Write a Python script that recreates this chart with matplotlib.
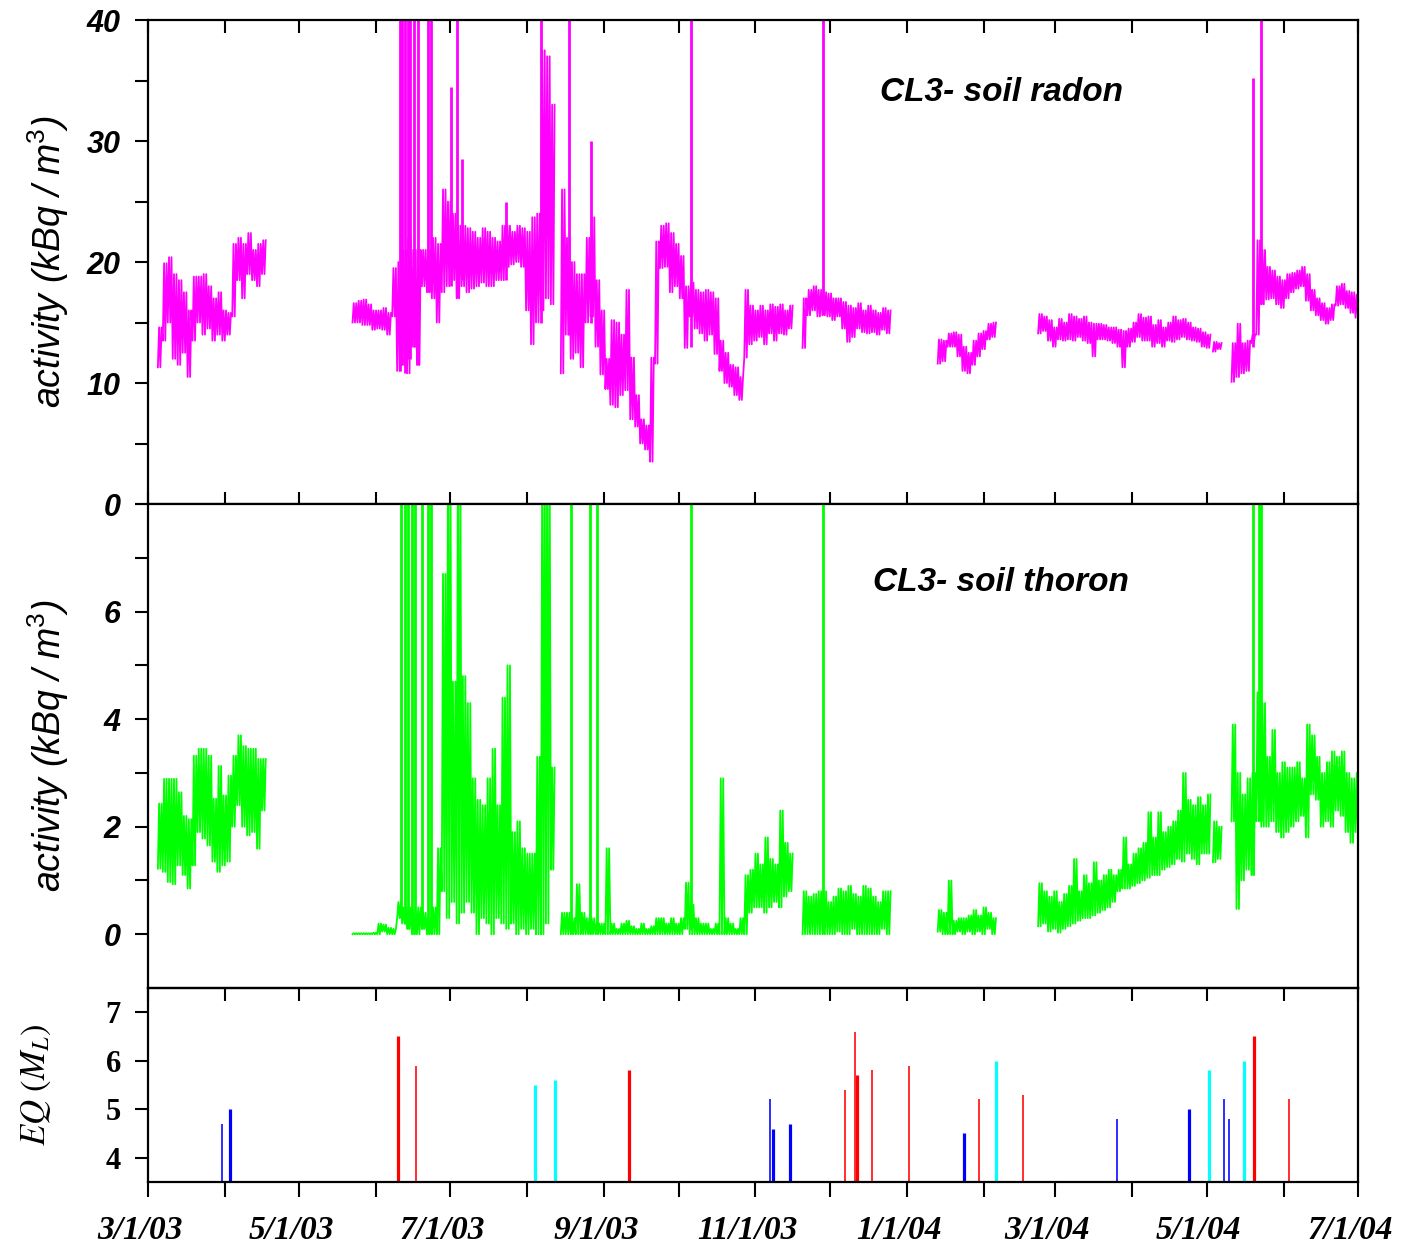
import numpy as np
import matplotlib
matplotlib.use("Agg")
import matplotlib.pyplot as plt
import matplotlib.dates as mdates
from matplotlib.transforms import ScaledTranslation

SANS = "Liberation Sans"
SERIF = "Liberation Serif"
plt.rcParams["mathtext.fontset"] = "custom"
plt.rcParams["mathtext.rm"] = SANS
plt.rcParams["mathtext.it"] = SANS + ":italic"

nan = np.nan

# start of each recording segment; every band entry below is one 2-day bin (min, max)
seg_start = {
    "a": "2003-03-05T00", "b": "2003-05-22T12", "b2": "2003-11-20T00",
    "c": "2004-01-13T12", "d": "2004-02-23T00", "f": "2004-05-03T12",
    "e": "2004-05-11T00",
}

# ---- soil radon (kBq/m3)
radon_a_lo = [11.3, 13.5, 15.0, 12.0, 11.5, 12.5, 10.5, 13.5, 15.0, 14.0, 14.5,
              13.5, 14.0, 13.5, 14.0, 15.5, 18.5, 17.0, 19.0, 18.5, 18.0, 19.0]
radon_a_hi = [14.6, 19.9, 20.4, 19.0, 18.5, 17.5, 16.0, 18.8, 18.8, 19.0, 18.0,
              17.0, 17.5, 16.0, 15.8, 21.5, 22.0, 21.5, 22.4, 21.0, 21.5, 21.8]
radon_b_lo = [15.0, 15.0, 14.8, 14.8, 14.4, 14.5, 14.4, 14.0, 15.5,
              11.0, 11.5, 10.8, 13.0, 11.5, 18.0, 17.5, 17.0, 15.0, 17.5, 18.0, 18.5, 17.0,
              18.0, 17.5, 17.8, 18.0, 18.3, 18.0, 18.0, 18.5, 18.5, 19.6, 19.8, 20.0, 19.6,
              16.0, 13.2, 15.0, 16.0, 17.0, 16.5,
              nan,
              10.8, 14.0, 12.0, 12.5, 11.3, 15.0, 15.5, 13.0, 10.7, 9.5, 8.2, 8.0, 9.0,
              9.4, 7.0, 6.4, 5.0, 4.5, 3.5,
              11.6, 19.5, 19.6, 17.5, 18.0, 17.0, 12.9, 15.5, 14.5, 14.1, 13.5, 14.0, 12.4,
              11.0, 10.0, 9.7, 9.0, 8.6,
              12.1, 13.2, 13.5, 13.8, 13.2, 14.1, 13.5, 14.1, 14.0, 14.5]
radon_b_hi = [16.6, 16.8, 16.9, 16.5, 16.0, 16.0, 16.2, 15.8, 19.5,
              20.0, 21.0, 22.0, 21.0, 21.0, 21.0, 21.0, 22.0, 21.5, 26.0, 25.0, 24.0, 23.0,
              23.0, 22.8, 22.5, 22.0, 22.8, 22.5, 22.0, 21.7, 23.0, 23.0, 22.5, 23.0, 22.8,
              22.5, 23.7, 24.0, 37.5, 37.0, 33.0,
              nan,
              26.0, 22.0, 20.0, 19.0, 19.0, 22.0, 23.7, 18.5, 16.0, 12.0, 15.2, 15.0, 14.0,
              17.7, 12.1, 9.0, 7.0, 6.5, 12.1,
              21.7, 23.0, 23.2, 22.4, 21.5, 20.5, 18.0, 18.3, 17.7, 17.5, 17.7, 17.5, 17.0,
              13.5, 12.5, 11.5, 11.3, 10.5,
              17.7, 16.4, 16.0, 16.4, 16.0, 16.5, 16.3, 16.5, 16.0, 16.4]
radon_b2_lo = [12.9, 15.6, 16.0, 15.5, 15.6, 15.5, 15.2, 15.5, 14.5, 13.4, 13.8, 14.5,
               14.2, 14.1, 14.2, 14.0, 14.4, 14.1]
radon_b2_hi = [17.0, 17.7, 18.0, 17.7, 17.5, 17.4, 17.0, 17.0, 16.7, 16.4, 16.2, 16.6,
               16.0, 16.4, 16.0, 15.8, 16.2, 16.0]
radon_c_lo = [11.6, 11.8, 13.0, 13.0, 12.2, 11.0, 10.8, 11.5, 12.2, 12.8, 13.6, 13.8]
radon_c_hi = [13.6, 13.5, 14.1, 14.2, 14.0, 13.0, 12.5, 13.5, 14.1, 14.3, 14.9, 15.0]
radon_d_lo = [14.1, 14.3, 13.5, 13.0, 13.6, 13.5, 13.6, 13.5, 13.8, 13.5, 13.3, 12.2,
              13.6, 13.6, 13.5, 13.3, 13.0, 11.3, 13.0, 13.4, 13.8, 13.5, 13.5, 13.0,
              13.3, 13.0, 13.5, 13.4, 13.6, 13.8, 13.6, 13.5, 13.4, 13.0, 12.9]
radon_d_hi = [15.7, 15.5, 15.2, 14.6, 15.3, 15.0, 15.7, 15.5, 15.3, 15.5, 15.0, 14.9,
              14.9, 14.8, 14.6, 14.6, 14.4, 14.3, 14.5, 15.0, 15.7, 15.4, 15.5, 14.8,
              15.2, 14.6, 15.0, 15.5, 15.2, 15.3, 15.0, 14.6, 14.5, 14.2, 14.0]
radon_f_lo = [12.6, 12.8]
radon_f_hi = [13.4, 13.3]
radon_e_lo = [10.1, 10.5, 10.8, 11.0, 13.3, 14.0, 16.5, 16.9, 17.0, 16.5, 16.2, 17.0,
              17.5, 17.8, 18.0, 16.8, 16.0, 15.6, 15.2, 14.9, 15.2, 16.4, 16.5, 16.2,
              15.8, 15.4]
radon_e_hi = [13.3, 14.9, 13.3, 13.5, 14.0, 21.8, 21.0, 19.6, 19.3, 18.8, 18.5, 19.0,
              19.1, 19.3, 19.6, 19.0, 17.7, 17.0, 16.6, 16.2, 16.5, 18.0, 18.2, 17.6,
              17.5, 17.3]

# single-reading radon spikes (45 = off scale)
radon_spike_date = ["2003-06-10T14", "2003-06-11T14", "2003-06-12T14", "2003-06-13T17",
                    "2003-06-14T17", "2003-06-16T07", "2003-06-17T22", "2003-06-21T22",
                    "2003-06-23T02", "2003-07-01T05", "2003-07-03T14", "2003-07-05T17",
                    "2003-07-23T10", "2003-08-06T12", "2003-08-17T19", "2003-08-26T17",
                    "2003-10-06T00", "2003-11-28T05", "2004-05-19T14", "2004-05-22T22"]
radon_spike_top = [45, 45, 45, 45, 45, 45, 45, 45, 45, 34.5, 45, 28.5, 25.0, 45, 45,
                   30.0, 45, 45, 35.2, 45]
radon_spike_base = [11.0, 11.5, 10.8, 12.0, 12.0, 13.0, 11.5, 17.5, 17.5, 18.0, 17.0,
                    18.5, 18.5, 15.0, 14.0, 15.0, 13.0, 15.6, 13.0, 16.5]

# ---- soil thoron (kBq/m3)
thoron_a_lo = [1.22, 1.16, 0.97, 0.93, 1.28, 1.10, 0.85, 1.28, 1.90, 1.78, 1.65,
               1.35, 1.16, 1.28, 1.35, 2.0, 2.4, 2.0, 1.84, 1.9, 1.59, 2.3]
thoron_a_hi = [2.43, 2.89, 2.89, 2.89, 2.64, 2.20, 2.14, 3.32, 3.45, 3.45, 3.32,
               2.52, 3.13, 2.58, 2.95, 3.32, 3.7, 3.5, 3.45, 3.45, 3.26, 3.26]
thoron_b_lo = [0, 0, 0, 0, 0, 0, 0.05, 0, 0,
               0.3, 0.2, 0.1, 0, 0, 0.1, 0, 0, 0, 0.8, 0.3, 0.6, 0.2,
               0.4, 0.6, 0.4, 0, 0.3, 0.2, 0, 0.3, 0.2, 0.1, 0.2, 0, 0.1,
               0, 0.1, 0, 0, 0.2, 1.2,
               nan,
               0, 0, 0, 0, 0, 0, 0, 0, 0, 0, 0, 0, 0, 0, 0, 0, 0, 0, 0,
               0, 0, 0, 0, 0, 0, 0.1, 0, 0, 0, 0, 0, 0, 0, 0, 0, 0, 0,
               0, 0.4, 0.5, 0.5, 0.4, 0.5, 0.6, 0.5, 0.7, 0.8]
thoron_b_hi = [0.02, 0.02, 0.02, 0.02, 0.03, 0.2, 0.18, 0.12, 0.1,
               0.6, 0.5, 0.5, 0.4, 0.5, 0.4, 0.3, 0.5, 1.6, 6.7, 9, 4.7, 9,
               4.8, 4.3, 2.9, 2.5, 2.4, 2.9, 3.45, 2.4, 4.4, 5.0, 1.9, 2.1, 1.6,
               1.5, 1.5, 3.3, 9, 9, 3.1,
               nan,
               0.4, 0.4, 0.3, 0.93, 0.4, 0.3, 0.3, 0.2, 0.2, 1.6, 0.2, 0.1, 0.2, 0.25,
               0.15, 0.1, 0.2, 0.1, 0.15,
               0.3, 0.3, 0.2, 0.3, 0.2, 0.3, 0.96, 0.55, 0.3, 0.2, 0.2, 0.1, 0.2, 2.9,
               0.3, 0.2, 0.1, 0.3,
               1.1, 1.2, 1.5, 1.3, 1.8, 1.4, 1.3, 2.3, 1.7, 1.5]
thoron_b2_lo = [0, 0, 0, 0, 0, 0, 0, 0.05, 0, 0, 0.1, 0, 0, 0, 0, 0, 0.1, 0]
thoron_b2_hi = [0.8, 0.7, 0.75, 0.8, 0.8, 0.6, 0.7, 0.85, 0.8, 0.9, 0.75, 0.7, 0.9,
                0.85, 0.7, 0.6, 0.8, 0.8]
thoron_c_lo = [0.05, 0, 0, 0, 0.05, 0, 0.05, 0, 0.05, 0, 0.1, 0]
thoron_c_hi = [0.45, 0.4, 1.0, 0.25, 0.3, 0.3, 0.35, 0.45, 0.35, 0.5, 0.4, 0.3]
thoron_d_lo = [0.15, 0.2, 0.05, 0.1, 0.03, 0.1, 0.15, 0.2, 0.25, 0.3, 0.3, 0.35,
               0.4, 0.45, 0.5, 0.6, 0.8, 0.85, 0.85, 0.9, 0.95, 1.0, 1.05, 1.1,
               1.1, 1.2, 1.25, 1.3, 1.4, 1.35, 1.5, 1.4, 1.3, 1.5, 1.5]
thoron_d_hi = [0.95, 0.8, 0.7, 0.8, 0.6, 0.75, 0.9, 1.4, 0.8, 1.1, 0.95, 1.34,
               1.0, 1.1, 1.2, 1.1, 1.2, 1.8, 1.3, 1.5, 1.6, 1.7, 2.27, 1.8,
               2.27, 1.9, 2.0, 2.1, 2.3, 3.0, 2.5, 2.4, 2.55, 2.4, 2.6]
thoron_f_lo = [1.34, 1.4]
thoron_f_hi = [2.1, 2.0]
thoron_e_lo = [2.1, 0.47, 1.0, 1.2, 1.1, 2.1, 2.0, 2.0, 2.1, 1.9, 1.8, 1.9, 2.0,
               2.1, 2.2, 1.8, 2.6, 2.5, 2.0, 2.1, 2.0, 2.3, 2.2, 1.9, 1.7, 1.9]
thoron_e_hi = [3.9, 3.0, 2.6, 2.9, 3.0, 4.5, 4.3, 3.3, 3.8, 3.0, 3.2, 3.1, 3.1,
               3.2, 2.9, 3.9, 3.7, 3.3, 3.0, 3.2, 3.4, 3.3, 3.4, 3.0, 2.9, 3.0]

# single-reading thoron spikes (9 = off scale)
thoron_spike_date = ["2003-06-11T00", "2003-06-12T14", "2003-06-13T22", "2003-06-15T12",
                     "2003-06-16T17", "2003-06-19T12", "2003-06-21T22", "2003-06-23T02",
                     "2003-08-18T14", "2003-08-26T07", "2003-08-29T02", "2003-10-06T00",
                     "2003-11-28T05", "2004-05-19T14", "2004-05-22T00", "2004-05-22T22"]
thoron_spike_top = [9] * 16
thoron_spike_base = [0.3, 0.2, 0.1, 0, 0, 0.1, 0, 0, 0, 0, 0, 0.1, 0, 1.1, 2.1, 2.1]

# ---- earthquakes: date, local magnitude, zone, events per bar
eq_date = ["2003-03-31", "2003-04-03", "2003-06-10", "2003-06-17", "2003-08-04",
           "2003-08-12", "2003-09-11", "2003-11-07", "2003-11-08", "2003-11-15",
           "2003-12-07", "2003-12-11", "2003-12-12", "2003-12-18", "2004-01-02",
           "2004-01-24", "2004-01-30", "2004-02-06", "2004-02-17", "2004-03-26",
           "2004-04-24", "2004-05-02", "2004-05-08", "2004-05-10", "2004-05-16",
           "2004-05-20", "2004-06-03"]
eq_mag = [4.7, 5.0, 6.5, 5.9, 5.5, 5.6, 5.8, 5.2, 4.6, 4.7, 5.4, 6.6, 5.7, 5.8, 5.9,
          4.5, 5.2, 6.0, 5.3, 4.8, 5.0, 5.8, 5.2, 4.8, 6.0, 6.5, 5.2]
eq_zone = ["b", "b", "r", "r", "c", "c", "r", "b", "b", "b", "r", "r", "r", "r", "r",
           "b", "r", "c", "r", "b", "b", "c", "b", "b", "c", "r", "r"]
eq_count = [1, 2, 2, 1, 2, 2, 2, 1, 2, 2, 1, 1, 2, 1, 1,
            2, 1, 2, 1, 1, 2, 2, 1, 1, 2, 2, 1]

major_ticks = ["2003-03-01", "2003-05-01", "2003-07-01", "2003-09-01", "2003-11-01",
               "2004-01-01", "2004-03-01", "2004-05-01", "2004-07-01"]
major_labels = ["3/1/03", "5/1/03", "7/1/03", "9/1/03", "11/1/03",
                "1/1/04", "3/1/04", "5/1/04", "7/1/04"]
minor_ticks = ["2003-04-01", "2003-06-01", "2003-08-01", "2003-10-01", "2003-12-01",
               "2004-02-01", "2004-04-01", "2004-06-01"]

zone_colors = {"r": "#ff0000", "b": "#0000ff", "c": "#00ffff"}


def dnum(values):
    return mdates.date2num(np.array(values, dtype="datetime64[h]"))


def band_trace(start, lo, hi):
    """Alternate min/max readings inside each 2-day bin -> dense noisy trace."""
    t0 = np.datetime64(start, "h")
    t, v = [], []
    for i, (a, b) in enumerate(zip(lo, hi)):
        for k, val in enumerate((a, b, a, b)):
            t.append(t0 + np.timedelta64(48 * i + 12 * k, "h"))
            v.append(val)
    return mdates.date2num(np.array(t)), np.array(v, dtype=float)


def draw_series(ax, segs, spikes, color):
    for key, lo, hi in segs:
        t, v = band_trace(seg_start[key], lo, hi)
        ax.plot(t, v, color=color, lw=1.3)
    dates, base, top = spikes
    ax.vlines(dnum(dates), base, top, colors=color, lw=2.0)


fig = plt.figure(figsize=(14.01, 12.51), dpi=100)
L, W = 0.1056, 0.8637
ax1 = fig.add_axes([L, 0.5971, W, 0.3869])
ax2 = fig.add_axes([L, 0.2102, W, 0.3869], sharex=ax1)
ax3 = fig.add_axes([L, 0.0552, W, 0.1551], sharex=ax1)
ax3.patch.set_visible(False)

draw_series(ax1, [("a", radon_a_lo, radon_a_hi), ("b", radon_b_lo, radon_b_hi),
                  ("b2", radon_b2_lo, radon_b2_hi), ("c", radon_c_lo, radon_c_hi),
                  ("d", radon_d_lo, radon_d_hi), ("f", radon_f_lo, radon_f_hi),
                  ("e", radon_e_lo, radon_e_hi)],
            (radon_spike_date, radon_spike_base, radon_spike_top), "#ff00ff")
draw_series(ax2, [("a", thoron_a_lo, thoron_a_hi), ("b", thoron_b_lo, thoron_b_hi),
                  ("b2", thoron_b2_lo, thoron_b2_hi), ("c", thoron_c_lo, thoron_c_hi),
                  ("d", thoron_d_lo, thoron_d_hi), ("f", thoron_f_lo, thoron_f_hi),
                  ("e", thoron_e_lo, thoron_e_hi)],
            (thoron_spike_date, thoron_spike_base, thoron_spike_top), "#00ff00")

ax3.vlines(dnum(eq_date), 3.5, eq_mag, colors=[zone_colors[z] for z in eq_zone],
           linewidths=[1.15 * n for n in eq_count])

ax1.set_xlim(dnum(["2003-03-01"])[0], dnum(["2004-07-01"])[0])
ax1.set_ylim(0, 40)
ax2.set_ylim(-1, 8)
ax3.set_ylim(3.5, 7.5)

for ax in (ax1, ax2, ax3):
    for s in ax.spines.values():
        s.set_linewidth(1.6)

num_font = dict(family=SANS, weight="bold", style="italic", fontsize=22)
ax1.set_yticks([0, 10, 20, 30, 40], labels=["0", "10", "20", "30", "40"], **num_font)
ax1.set_yticks([5, 15, 25, 35], minor=True)
ax2.set_yticks([0, 2, 4, 6], labels=["0", "2", "4", "6"], **num_font)
ax2.set_yticks([1, 3, 5, 7, 8], minor=True)
ax3.set_yticks([4, 5, 6, 7], labels=["4", "5", "6", "7"],
               family=SERIF, weight="bold", fontsize=22)
for ax in (ax1, ax2, ax3):
    ax.tick_params(axis="y", which="both", direction="out", length=9.5, width=1.5,
                   left=True, right=False, pad=10)

ax3.set_xticks(dnum(major_ticks), labels=major_labels, family=SERIF,
               weight="bold", style="italic", fontsize=24)
ax3.set_xticks(dnum(minor_ticks), minor=True)
ax1.tick_params(axis="x", which="both", direction="in", top=True, bottom=True,
                length=9, width=1.5, labelbottom=False)
ax2.tick_params(axis="x", which="both", direction="out", top=False, bottom=True,
                length=9, width=1.5, labelbottom=False)
ax3.tick_params(axis="x", which="both", direction="out", top=False, bottom=True,
                length=11, width=1.5, pad=13)
# italic date labels sit a little left of their ticks
shift = ScaledTranslation(-8 / 100, 0, fig.dpi_scale_trans)
for lbl in ax3.get_xticklabels():
    lbl.set_transform(lbl.get_transform() + shift)

ylab = dict(family=SANS, style="italic", fontsize=27)
ax1.set_ylabel("activity (kBq / m$^{3}$)", **ylab)
ax2.set_ylabel("activity (kBq / m$^{3}$)", **ylab)
ax3.set_ylabel(r"$EQ\ (M_L)$", fontsize=25, math_fontfamily="stix")
for ax, xc in ((ax1, -0.0826), (ax2, -0.0826), (ax3, -0.0926)):
    ax.yaxis.label.set_verticalalignment("center")
    ax.yaxis.set_label_coords(xc, 0.5)

tag = dict(family=SANS, weight="bold", style="italic", fontsize=24, va="center")
ax1.text(0.605, 0.851, "CL3- soil radon", transform=ax1.transAxes, **tag)
ax2.text(0.599, 0.837, "CL3- soil thoron", transform=ax2.transAxes, **tag)

fig.savefig("out.png", dpi=100)
